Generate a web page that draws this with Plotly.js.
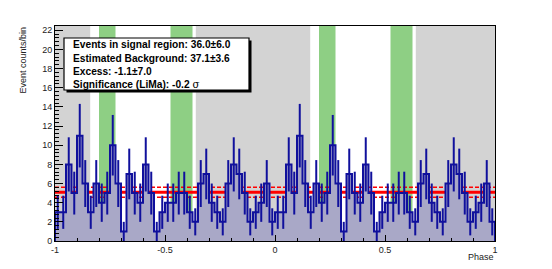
<!DOCTYPE html>
<html><head><meta charset="utf-8">
<script src="https://cdn.plot.ly/plotly-3.0.1.min.js"></script>
<style>html,body{margin:0;padding:0;background:#fff}#chart{width:552px;height:269px}</style>
</head><body><div id="chart"></div>
<script>
// ---- data ----
const phaseMin = -1, phaseMax = 1, nBins = 80;
const countsCycle1 = [3,3,8,5,11,6,3,6,4,5,10,6,1,7,5,4,8,5,1,3,4,4,5,5,3,2,6,7,4,3,2,6,8,7,5,2,3,4,6,2];
const countsCycle2 = [3,3,8,5,11,6,3,6,4,5,10,6,1,7,5,4,8,5,1,3,4,4,5,5,3,2,6,7,4,3,2,6,8,7,5,2,3,4,6,2];
const onRegions = [[0.2,0.275],[0.525,0.625]];
const offRegions = [[0.64,1.16]];
const bkgPerBin = 5.08;
const bkgPerBinErr = 0.52;
const statsLines = [
  'Events in signal region: 36.0±6.0',
  'Estimated Background: 37.1±3.6',
  'Excess: -1.1±7.0',
  'Significance (LiMa): -0.2 <span style="font-weight:normal;font-family:\'DejaVu Serif\'">σ</span>'
];
const xTickVals = [-1,-0.5,0,0.5,1];
const xTickText = ['-1','-0.5','0','0.5','1'];
const yTickVals = [0,2,4,6,8,10,12,14,16,18,20,22];
const yTickText = ['0','2','4','6','8','10','12','14','16','18','20','22'];

// ---- build ----
const counts = countsCycle1.concat(countsCycle2);
const bw = (phaseMax - phaseMin) / nBins;
const lowEdges = counts.map((_, i) => phaseMin + i * bw);
const centers = lowEdges.map(e => e + bw / 2);
const stepX = [phaseMin], stepY = [0];
counts.forEach((c, i) => { stepX.push(lowEdges[i]); stepY.push(c); });
stepX.push(phaseMax); stepY.push(counts[counts.length - 1]);
stepX.push(phaseMax); stepY.push(0);

const blue = '#10109c';
const red = '#ff0000';

const traces = [
  {x:[phaseMin, phaseMax], y:[bkgPerBin + bkgPerBinErr, bkgPerBin + bkgPerBinErr], mode:'lines',
   line:{color:red, width:1.5, dash:'4px,2px'}, hoverinfo:'skip', showlegend:false},
  {x:[phaseMin, phaseMax], y:[bkgPerBin - bkgPerBinErr, bkgPerBin - bkgPerBinErr], mode:'lines',
   line:{color:red, width:1.5, dash:'4px,2px'}, hoverinfo:'skip', showlegend:false},
  {x:[phaseMin, phaseMax], y:[bkgPerBin, bkgPerBin], mode:'lines',
   line:{color:red, width:3}, hoverinfo:'skip', showlegend:false},
  {x:stepX, y:stepY, mode:'lines', line:{shape:'hv', color:blue, width:2},
   fill:'tozeroy', fillcolor:'rgb(169,168,199)', hoverinfo:'skip', showlegend:false},
  {x:centers, y:counts, mode:'markers', marker:{size:1, color:'rgba(0,0,0,0)'},
   error_y:{type:'data', array:counts.map(c => Math.sqrt(c)), visible:true, width:0, thickness:2, color:blue},
   hoverinfo:'skip', showlegend:false}
];

function bandShapes(regions, color) {
  const out = [];
  regions.forEach(([a, b]) => {
    for (let k = -3; k <= 3; k++) {
      const x0 = Math.max(a + k, phaseMin), x1 = Math.min(b + k, phaseMax);
      if (x1 > x0) out.push({type:'rect', xref:'x', yref:'paper', x0:x0, x1:x1, y0:0, y1:1,
        fillcolor:color, line:{width:0}, layer:'below'});
    }
  });
  return out;
}

// pixel helpers for the frame: plot area 55..495 x, 26..241 y
const L = 55, R = 495, T = 26, B = 241;
const px = v => (v - L) / (R - L);
const py = v => (B - v) / (B - T);

const shapes = [
  ...bandShapes(offRegions, 'rgb(211,211,211)'),
  ...bandShapes(onRegions, 'rgb(142,207,132)'),
  {type:'rect', xref:'paper', yref:'paper', x0:px(66.5), x1:px(251.5), y0:py(92.5), y1:py(40.5),
   fillcolor:'black', line:{width:0}, layer:'above'},
  {type:'rect', xref:'paper', yref:'paper', x0:px(64), x1:px(249), y0:py(90), y1:py(38),
   fillcolor:'white', line:{color:'black', width:1.2}, layer:'above'}
];

const lineY = [45, 58, 71, 84];
const annotations = statsLines.map((t, i) => ({
  text:t, xref:'paper', yref:'paper', x:px(71), y:py(lineY[i]), xanchor:'left', yanchor:'middle',
  showarrow:false, font:{family:'Arial, Liberation Sans, sans-serif', size:10.2, color:'black', weight:'bold'}
}));
annotations.push({text:'Event counts/bin', xref:'paper', yref:'paper', x:px(23), y:py(25),
  xanchor:'center', yanchor:'top', textangle:-90, showarrow:false,
  font:{family:'Liberation Sans, Arial, sans-serif', size:9, color:'#222'}});
annotations.push({text:'Phase', xref:'paper', yref:'paper', x:px(496), y:py(257),
  xanchor:'right', yanchor:'middle', showarrow:false,
  font:{family:'Liberation Sans, Arial, sans-serif', size:9, color:'#222'}});

const layout = {
  width:552, height:269,
  margin:{l:L, r:552 - R, t:T, b:269 - B, pad:0},
  paper_bgcolor:'white', plot_bgcolor:'white',
  font:{family:'Liberation Sans, Arial, sans-serif', size:9, color:'#222'},
  xaxis:{range:[phaseMin, phaseMax], tickmode:'array', tickvals:xTickVals, ticktext:xTickText,
    ticks:'inside', ticklen:6, tickwidth:1, tickcolor:'black',
    minor:{tickmode:'linear', tick0:-1, dtick:0.1, ticks:'inside', ticklen:3, tickcolor:'black', showgrid:false},
    showline:true, linecolor:'black', linewidth:1, mirror:true, showgrid:false, zeroline:false,
    tickfont:{size:9, color:'#222'}, fixedrange:true},
  yaxis:{range:[0, 22.45], tickmode:'array', tickvals:yTickVals, ticktext:yTickText,
    ticks:'inside', ticklen:8, tickwidth:1, tickcolor:'black',
    minor:{tickmode:'linear', tick0:0, dtick:0.4, ticks:'inside', ticklen:4, tickcolor:'black', showgrid:false},
    showline:true, linecolor:'black', linewidth:1, mirror:true, showgrid:false, zeroline:false,
    tickfont:{size:9, color:'#222'}, fixedrange:true},
  shapes:shapes,
  annotations:annotations,
  showlegend:false
};

Plotly.newPlot('chart', traces, layout, {staticPlot:true, displayModeBar:false});
</script>
</body></html>
